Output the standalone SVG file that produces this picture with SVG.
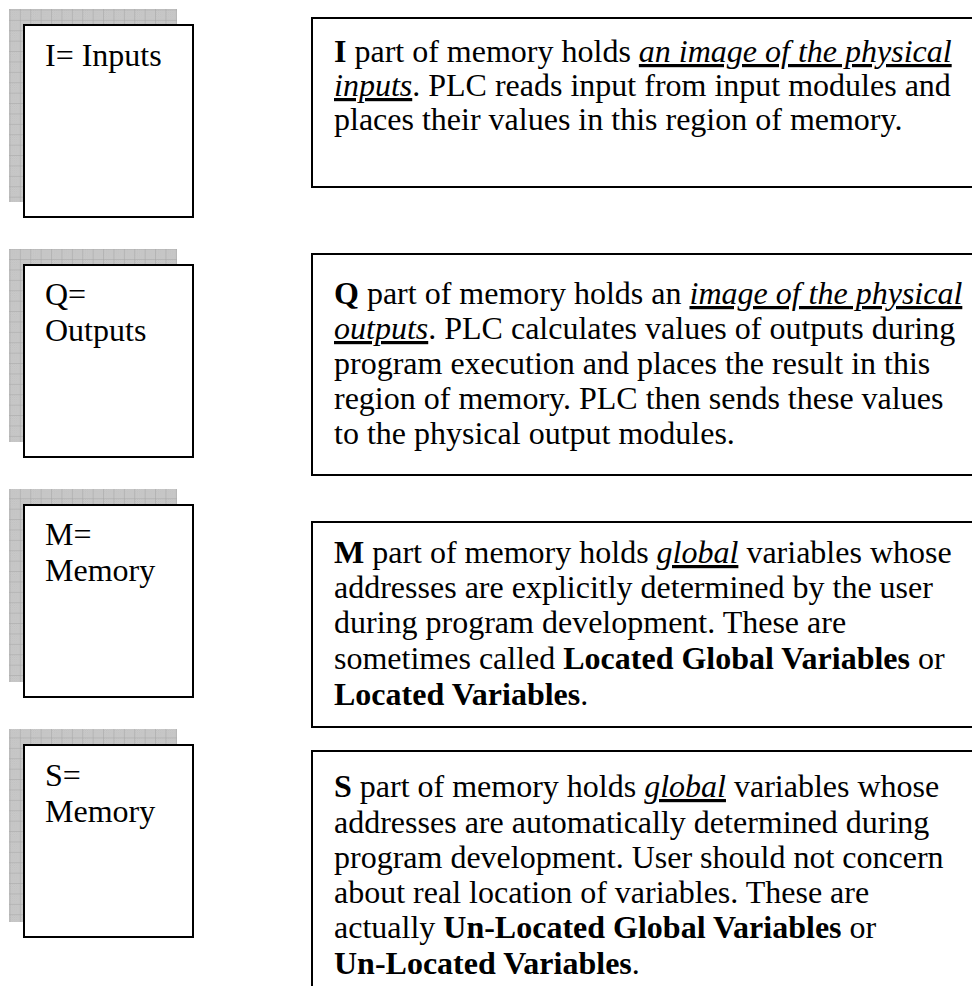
<svg xmlns="http://www.w3.org/2000/svg" width="972" height="986" viewBox="0 0 972 986">
  <defs>
    <!-- fine halftone texture for the drop shadows -->
    <pattern id="dither" patternUnits="userSpaceOnUse" width="2" height="2">
      <rect width="2" height="2" fill="#d0d0d0"/>
      <rect width="1" height="1" fill="#bcbcbc"/>
      <rect x="1" y="1" width="1" height="1" fill="#bcbcbc"/>
    </pattern>
    <!-- grid of the drop shadows -->
    <pattern id="grid" patternUnits="userSpaceOnUse" width="10.4" height="10.4">
      <rect width="10.4" height="10.4" fill="url(#dither)"/>
      <path d="M10.4 0V10.4M0 10.4H10.4" stroke="#a4a4a4" stroke-width="1" fill="none"/>
    </pattern>
  </defs>
  <style>
    .shadow { fill: url(#grid); }
    .box { fill: #ffffff; stroke: #000000; stroke-width: 2; }
    .label { font-family: "Liberation Serif", "Times New Roman", serif; font-size: 32px; fill: #000000; }
    .desc { font-family: "Liberation Serif", "Times New Roman", serif; font-size: 32px; fill: #000000; }
    .b { font-weight: bold; }
    .iu { font-style: italic; text-decoration: underline; }
  </style>
  <rect width="972" height="986" fill="#ffffff"/>

  <!-- I: inputs -->
  <g id="node-i-label">
    <rect class="shadow" x="9" y="9" width="168" height="193"/>
    <rect class="box" x="24" y="25" width="169" height="192"/>
    <text class="label" x="45" y="66">I= Inputs</text>
  </g>
  <g id="node-i-desc">
    <rect class="box" x="312" y="18" width="680" height="169"/>
    <text class="desc" x="334" y="62"><tspan class="b">I</tspan> part of memory holds <tspan class="iu">an image of the physical</tspan></text>
    <text class="desc" x="334" y="96"><tspan class="iu">inputs</tspan>. PLC reads input from input modules and</text>
    <text class="desc" x="334" y="130">places their values in this region of memory.</text>
  </g>

  <!-- Q: outputs -->
  <g id="node-q-label">
    <rect class="shadow" x="9" y="249" width="168" height="193"/>
    <rect class="box" x="24" y="265" width="169" height="192"/>
    <text class="label" x="45" y="305">Q=</text>
    <text class="label" x="45" y="341">Outputs</text>
  </g>
  <g id="node-q-desc">
    <rect class="box" x="312" y="254" width="680" height="221"/>
    <text class="desc" x="334" y="304"><tspan class="b">Q</tspan> part of memory holds an <tspan class="iu">image of the physical</tspan></text>
    <text class="desc" x="334" y="339"><tspan class="iu">outputs</tspan>. PLC calculates values of outputs during</text>
    <text class="desc" x="334" y="374">program execution and places the result in this</text>
    <text class="desc" x="334" y="409">region of memory. PLC then sends these values</text>
    <text class="desc" x="334" y="444">to the physical output modules.</text>
  </g>

  <!-- M: memory -->
  <g id="node-m-label">
    <rect class="shadow" x="9" y="489" width="168" height="193"/>
    <rect class="box" x="24" y="505" width="169" height="192"/>
    <text class="label" x="45" y="545">M=</text>
    <text class="label" x="45" y="581">Memory</text>
  </g>
  <g id="node-m-desc">
    <rect class="box" x="312" y="522" width="680" height="205"/>
    <text class="desc" x="334" y="563"><tspan class="b">M</tspan> part of memory holds <tspan class="iu">global</tspan> variables whose</text>
    <text class="desc" x="334" y="598">addresses are explicitly determined by the user</text>
    <text class="desc" x="334" y="633">during program development. These are</text>
    <text class="desc" x="334" y="669">sometimes called <tspan class="b">Located Global Variables</tspan> or</text>
    <text class="desc" x="334" y="705"><tspan class="b">Located Variables</tspan>.</text>
  </g>

  <!-- S: memory -->
  <g id="node-s-label">
    <rect class="shadow" x="9" y="729" width="168" height="193"/>
    <rect class="box" x="24" y="745" width="169" height="192"/>
    <text class="label" x="45" y="786">S=</text>
    <text class="label" x="45" y="822">Memory</text>
  </g>
  <g id="node-s-desc">
    <rect class="box" x="312" y="751" width="680" height="260"/>
    <text class="desc" x="334" y="797"><tspan class="b">S</tspan> part of memory holds <tspan class="iu">global</tspan> variables whose</text>
    <text class="desc" x="334" y="833">addresses are automatically determined during</text>
    <text class="desc" x="334" y="868">program development. User should not concern</text>
    <text class="desc" x="334" y="903">about real location of variables. These are</text>
    <text class="desc" x="334" y="938">actually <tspan class="b">Un-Located Global Variables</tspan> or</text>
    <text class="desc" x="334" y="974"><tspan class="b">Un-Located Variables</tspan>.</text>
  </g>

  <g id="connectors"/>
</svg>
